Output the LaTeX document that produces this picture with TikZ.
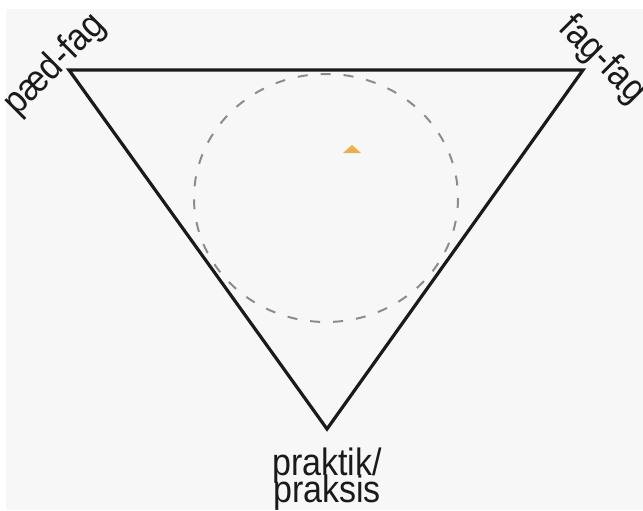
\documentclass[tikz,border=0pt]{standalone}
\usepackage{fontspec}
\setmainfont{Liberation Sans}
\usepackage{graphicx}
\usetikzlibrary{positioning,calc}
\definecolor{trBack}{HTML}{F7F7F7}
\definecolor{trLine}{HTML}{1A1A1A}
\definecolor{trDash}{HTML}{8C8C8C}
\definecolor{trGold}{HTML}{E6B04A}
\newcommand{\tallsf}[1]{\scalebox{1}[1.12]{#1}}
\tikzset{
  tr-edge/.style={draw=trLine, line width=1.6pt, line join=miter},
  tr-ring/.style={draw=trDash, line width=1pt, dash pattern=on 5pt off 6.5pt},
  tr-mark/.style={fill=trGold, draw=none},
  tr-label/.style={font=\fontsize{17}{17}\selectfont, inner sep=0pt,
    text=trLine}
}
\begin{document}
\begin{tikzpicture}[x=0.5pt, y=-0.5pt]
\useasboundingbox (0,0) rectangle (643,510);
\fill[trBack] (6,9) rectangle (643,510);

% corners of the triangle
\coordinate (paed) at (69,70);
\coordinate (fag) at (583,70);
\coordinate (prak) at (327,429);
\draw[tr-edge] (paed) -- (fag) -- (prak) -- cycle;

% dashed ring and small marker
\coordinate (mid) at (326,198);
\draw[tr-ring] (mid) ellipse[x radius=132, y radius=124];
\fill[tr-mark] (343,153) -- (352,145) -- (361,153) -- cycle;

% corner labels
\node[tr-label, rotate=45] (lpaed) at (55,65) {\tallsf{pæd-fag}};
\node[tr-label, rotate=-45] (lfag) at (602,60) {\tallsf{fag-fag}};
\node[tr-label, anchor=base] (lprak1) at (327,475) {\tallsf{praktik/}};
\node[tr-label, anchor=base] (lprak2) at ($(lprak1.base)+(0,27)$)
  {\tallsf{praksis}};
\end{tikzpicture}
\end{document}
